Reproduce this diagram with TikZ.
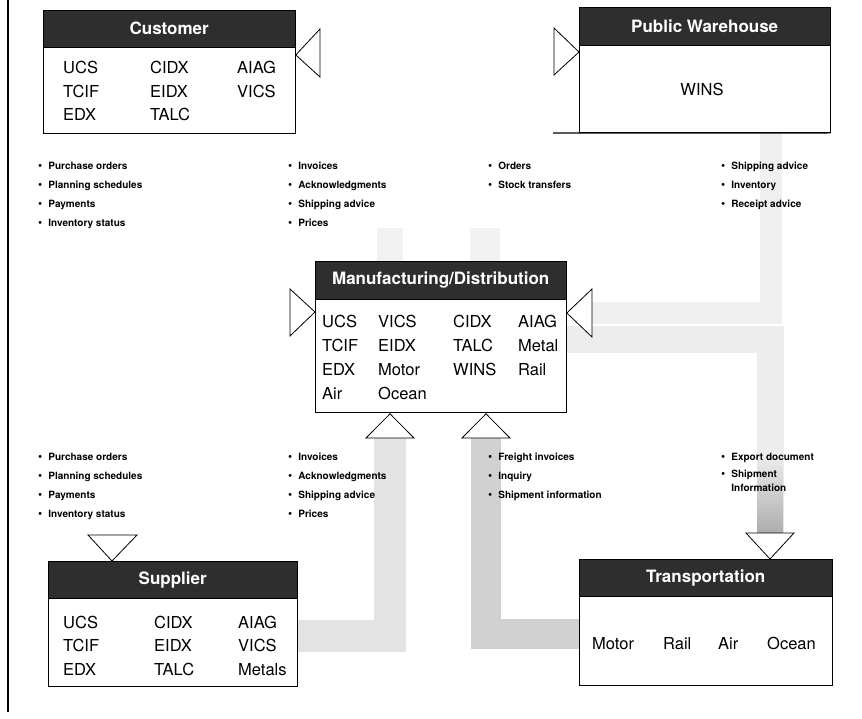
\documentclass[tikz,border=0pt]{standalone}
\usepackage{fontspec}
\setmainfont{TeX Gyre Heros}
\usetikzlibrary{calc}
\setlength{\tabcolsep}{0pt}
\newcommand{\bigdot}{{\fontsize{12}{12}\selectfont\textbullet}}
\begin{document}
\begin{tikzpicture}[x=1pt,y=-1pt,
  titlebar/.style={draw=black, fill=black!82, text=white, inner sep=0pt, anchor=north west,
    font=\fontsize{17}{20}\selectfont\bfseries},
  bodybox/.style={draw=black, line width=0.8pt, fill=white, inner sep=0pt, anchor=north west},
  entries/.style={inner sep=0pt, anchor=base west, font=\fontsize{16.5}{23.5}\selectfont},
  bullist/.style={inner sep=0pt, anchor=base west, font=\fontsize{10}{19}\selectfont\bfseries},
  flowtri/.style={draw=black, line width=0.8pt, fill=white, line join=miter},
  bandline/.style={line cap=butt, line join=miter},
]
\useasboundingbox (0,0) rectangle (862,719);

% page rule on the left
\draw[line width=1.2pt] (8,0) -- (8,712);

% ---------- connector ends ----------
\coordinate (custIn) at (320,53);
\coordinate (pwIn)   at (554,52);
\coordinate (mfgInL) at (290,313);
\coordinate (mfgInR) at (592,313);
\coordinate (mfgInA) at (390,438);
\coordinate (mfgInB) at (486,438);
\coordinate (supIn)  at (112,535);
\coordinate (trnIn)  at (770,533);
\coordinate (pwDrop) at (771,134);
\coordinate (mfgTop) at (315,261);

% ---------- faint stipple above the central box ----------
\fill[black!5] ($(mfgTop)+(62,-33)$) rectangle ($(mfgTop)+(88,0)$);
\fill[black!5] ($(mfgTop)+(155,-33)$) rectangle ($(mfgTop)+(185,0)$);

% ---------- boxes ----------
\node[titlebar, minimum width=252, minimum height=37] (custT) at (43,10) {Customer};
\node[bodybox, minimum width=252, minimum height=86] (custB) at (43,47) {};

\node[titlebar, minimum width=251, minimum height=38] (pwT) at (579,7) {Public Warehouse};
\node[bodybox, minimum width=251, minimum height=87] (pwB) at (579,45) {};

\node[titlebar, minimum width=251, minimum height=38] (mfgT) at (mfgTop) {Manufacturing/Distribution};
\node[bodybox, minimum width=251, minimum height=113] (mfgB) at (315,299) {};

\node[titlebar, minimum width=249, minimum height=37] (supT) at (48,561) {Supplier};
\node[bodybox, minimum width=249, minimum height=88] (supB) at (48,598) {};

\node[titlebar, minimum width=253, minimum height=37] (trnT) at (579,559) {Transportation};
\node[bodybox, minimum width=253, minimum height=89] (trnB) at (579,596) {};

% ---------- stippled connector bands ----------
\draw[bandline, draw=black!11, line width=32] ([yshift=6]supB.east) -| (mfgInA);
\draw[bandline, draw=black!18, line width=30] ([yshift=7]trnB.west) -| (mfgInB);
\draw[bandline, draw=black!6, line width=22] (mfgInR) -| (pwDrop);
\draw[bandline, draw=black!7, line width=27] ([yshift=16]mfgB.east) -| (trnIn);
\shade[top color=black!7, bottom color=black!32] (757,455) rectangle (783,533);

\draw[line width=1.4pt] (553,133) -- (pwB.south east);

% ---------- arrow triangles ----------
\draw[flowtri] (custB.north east |- 0,55) -- ($(custIn)+(0,-24)$) -- ($(custIn)+(0,24)$) -- cycle;
\draw[flowtri] (pwB.north west |- 0,52) -- ($(pwIn)+(0,-24)$) -- ($(pwIn)+(0,23)$) -- cycle;
\draw[flowtri] (mfgB.west |- 0,312) -- ($(mfgInL)+(0,-24)$) -- ($(mfgInL)+(0,23)$) -- cycle;
\draw[flowtri] (mfgB.east |- 0,313) -- ($(mfgInR)+(0,-24)$) -- ($(mfgInR)+(0,24)$) -- cycle;
\draw[flowtri] (mfgB.south -| mfgInA) ++(0,1) -- ($(mfgInA)+(-24,0)$) -- ($(mfgInA)+(24,0)$) -- cycle;
\draw[flowtri] (mfgB.south -| mfgInB) ++(0,1) -- ($(mfgInB)+(-24,0)$) -- ($(mfgInB)+(24,0)$) -- cycle;
\draw[flowtri] (supT.north -| supIn) -- ($(supIn)+(-24,0)$) -- ($(supIn)+(25,0)$) -- cycle;
\draw[flowtri] (trnT.north -| trnIn) -- ($(trnIn)+(-24,0)$) -- ($(trnIn)+(24,0)$) -- cycle;

% ---------- box contents ----------
\node[entries] (custE) at (63,74) {\begin{tabular}[t]{@{}p{87pt}p{87pt}l@{}}
UCS & CIDX & AIAG\\ TCIF & EIDX & VICS\\ EDX & TALC & \end{tabular}};

\node[entries, anchor=base] (pwE) at (702,96) {WINS};

\node[entries, font=\fontsize{16.5}{24.3}\selectfont] (mfgE) at (322,327) {\begin{tabular}[t]{@{}p{56pt}p{75pt}p{65pt}l@{}}
UCS & VICS & CIDX & AIAG\\ TCIF & EIDX & TALC & Metal\\
EDX & Motor & WINS & Rail\\ Air & Ocean & & \end{tabular}};

\node[entries] (supE) at (63,628) {\begin{tabular}[t]{@{}p{91pt}p{84pt}l@{}}
UCS & CIDX & AIAG\\ TCIF & EIDX & VICS\\ EDX & TALC & Metals\end{tabular}};

\node[entries] (trnE) at (592,649) {\begin{tabular}[t]{@{}p{71pt}p{55pt}p{49pt}l@{}}
Motor & Rail & Air & Ocean\end{tabular}};

% ---------- message lists ----------
\node[bullist] (custMsg) at (38,170) {\begin{tabular}[t]{@{}l@{\hspace{6pt}}l@{}}
\bigdot & Purchase orders\\ \bigdot & Planning schedules\\
\bigdot & Payments\\ \bigdot & Inventory status\end{tabular}};
\node[bullist] (custAck) at (288,170) {\begin{tabular}[t]{@{}l@{\hspace{6pt}}l@{}}
\bigdot & Invoices\\ \bigdot & Acknowledgments\\
\bigdot & Shipping advice\\ \bigdot & Prices\end{tabular}};
\node[bullist] (pwMsg) at (488,170) {\begin{tabular}[t]{@{}l@{\hspace{6pt}}l@{}}
\bigdot & Orders\\ \bigdot & Stock transfers\end{tabular}};
\node[bullist] (pwAck) at (721,170) {\begin{tabular}[t]{@{}l@{\hspace{6pt}}l@{}}
\bigdot & Shipping advice\\ \bigdot & Inventory\\
\bigdot & Receipt advice\end{tabular}};

\node[bullist] (supMsg) at (38,460) {\begin{tabular}[t]{@{}l@{\hspace{6pt}}l@{}}
\bigdot & Purchase orders\\ \bigdot & Planning schedules\\
\bigdot & Payments\\ \bigdot & Inventory status\end{tabular}};
\node[bullist] (supAck) at (288,460) {\begin{tabular}[t]{@{}l@{\hspace{6pt}}l@{}}
\bigdot & Invoices\\ \bigdot & Acknowledgments\\
\bigdot & Shipping advice\\ \bigdot & Prices\end{tabular}};
\node[bullist] (trnMsg) at (488,460) {\begin{tabular}[t]{@{}l@{\hspace{6pt}}l@{}}
\bigdot & Freight invoices\\ \bigdot & Inquiry\\
\bigdot & Shipment information\end{tabular}};
\node[bullist] (trnAck) at (721,460) {\begin{tabular}[t]{@{}l@{\hspace{6pt}}l@{}}
\bigdot & Export document\\[-2pt] \bigdot & Shipment\\[-5pt]
 & Information\end{tabular}};
\end{tikzpicture}
\end{document}
